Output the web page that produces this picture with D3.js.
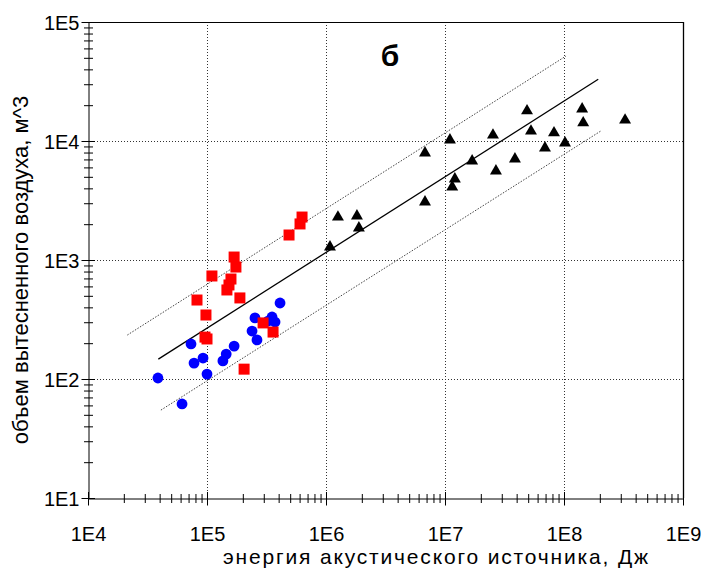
<!DOCTYPE html>
<html><head><meta charset="utf-8">
<script src="https://cdn.jsdelivr.net/npm/d3@7"></script>
<style>body{margin:0;background:#fff}svg{display:block}text{font-family:"Liberation Sans",Arial,sans-serif}</style>
</head><body>
<script>
// ---- data ----
const xTickValues = [1e4, 1e5, 1e6, 1e7, 1e8, 1e9];
const xTickLabels = ["1E4", "1E5", "1E6", "1E7", "1E8", "1E9"];
const yTickValues = [1e1, 1e2, 1e3, 1e4, 1e5];
const yTickLabels = ["1E1", "1E2", "1E3", "1E4", "1E5"];

// red squares
const redX = [6.29e5, 6.05e5, 4.89e5, 1.69e5, 1.75e5, 1.10e5, 1.59e5, 1.53e5, 1.47e5, 8.24e4, 1.89e5, 9.8e4, 2.96e5, 3.59e5, 9.62e4, 1.0e5, 2.05e5];
const redY = [2296, 2009, 1622, 1059, 873, 734, 692, 617, 560, 461, 480, 345, 296, 248, 225, 217, 121];
// blue circles
const blueX = [3.87e4, 6.17e4, 7.34e4, 7.78e4, 9.26e4, 1.0e5, 1.36e5, 1.45e5, 1.69e5, 2.39e5, 2.63e5, 2.53e5, 3.52e5, 3.73e5, 3.26e5, 4.11e5];
const blueY = [102, 61.7, 197, 136, 150, 110, 142, 162, 189, 253, 213, 326, 332, 301, 307, 435];
// black triangles
const blackX = [1.08e6, 1.26e6, 1.82e6, 1.89e6, 6.79e6, 6.79e6, 1.10e7, 1.15e7, 1.21e7, 1.69e7, 2.53e7, 2.68e7, 3.87e7, 4.89e7, 5.28e7, 6.92e7, 8.24e7, 1.02e8, 1.42e8, 1.45e8, 3.26e8];
const blackY = [1286, 2296, 2344, 1858, 7925, 3070, 1.02e4, 4104, 4793, 6792, 1.12e4, 5598, 7063, 1.79e4, 1.21e4, 8733, 1.17e4, 9620, 1.86e4, 1.42e4, 1.50e4];
// regression line and bounds (endpoints)
const fitX = [3.9e4, 1.94e8];
const fitY = [147, 3.3e4];
const upperX = [2.14e4, 1.04e8];
const upperY = [234, 5.18e4];
const lowerX = [4.1e4, 2.03e8];
const lowerY = [54.8, 1.21e4];

const W = 701, H = 569;
const L = 88, R = 683, T = 22, B = 498;
const svg = d3.select("body").append("svg").attr("width", W).attr("height", H);
const x = d3.scaleLog().domain([1e4, 1e9]).range([L, R]);
const y = d3.scaleLog().domain([1e1, 1e5]).range([B, T]);

// minor ticks
const xMinor = [], yMinor = [];
for (let e = 4; e < 9; e++) for (let k = 2; k <= 9; k++) xMinor.push(k * Math.pow(10, e));
for (let e = 1; e < 5; e++) for (let k = 2; k <= 9; k++) yMinor.push(k * Math.pow(10, e));

// grid
const grid = svg.append("g").attr("stroke", "#333").attr("stroke-width", 1).attr("stroke-dasharray", "1,2");
grid.selectAll(".gx").data(xTickValues.slice(1, -1)).join("line")
  .attr("x1", d => Math.round(x(d)) + 0.5).attr("x2", d => Math.round(x(d)) + 0.5).attr("y1", T).attr("y2", B);
grid.selectAll(".gy").data(yTickValues.slice(1, -1)).join("line")
  .attr("y1", d => Math.round(y(d)) + 0.5).attr("y2", d => Math.round(y(d)) + 0.5).attr("x1", L).attr("x2", R);

// frame top/right
svg.append("line").attr("x1", L).attr("x2", R + 0.5).attr("y1", T + 0.5).attr("y2", T + 0.5).attr("stroke", "#000");
svg.append("line").attr("x1", R + 0.5).attr("x2", R + 0.5).attr("y1", T).attr("y2", B).attr("stroke", "#000").attr("stroke-width", 1.3);

// lines
const ln = (xs, ys) => xs.map((v, i) => [x(v), y(ys[i])]);
const lineGen = d3.line();
svg.append("path").attr("d", lineGen(ln(upperX, upperY))).attr("fill", "none").attr("stroke", "#444").attr("stroke-width", 1).attr("stroke-dasharray", "1.5,1.5");
svg.append("path").attr("d", lineGen(ln(lowerX, lowerY))).attr("fill", "none").attr("stroke", "#444").attr("stroke-width", 1).attr("stroke-dasharray", "1.5,1.5");
svg.append("path").attr("d", lineGen(ln(fitX, fitY))).attr("fill", "none").attr("stroke", "#000").attr("stroke-width", 1.3);

// markers
svg.append("g").selectAll("circle").data(blueX.map((v, i) => [v, blueY[i]])).join("circle")
  .attr("cx", d => x(d[0])).attr("cy", d => y(d[1])).attr("r", 5.4).attr("fill", "#0000ff");
const sq = 11;
svg.append("g").selectAll("rect").data(redX.map((v, i) => [v, redY[i]])).join("rect")
  .attr("x", d => x(d[0]) - sq / 2).attr("y", d => y(d[1]) - sq / 2).attr("width", sq).attr("height", sq).attr("fill", "#ff0000");
const tri = d3.symbol().type(d3.symbolTriangle).size(62);
svg.append("g").selectAll("path").data(blackX.map((v, i) => [v, blackY[i]])).join("path")
  .attr("d", tri).attr("transform", d => `translate(${x(d[0])},${y(d[1])})`).attr("fill", "#000");

// axes
const xAxis = svg.append("g").attr("transform", `translate(0,${B + 0.5})`)
  .call(d3.axisBottom(x).tickValues(xTickValues).tickFormat((d, i) => xTickLabels[i]).tickSize(0).tickPadding(0));
xAxis.select(".domain").attr("stroke", "#000");
xAxis.selectAll(".tick line").attr("y1", -6.5).attr("y2", 7).attr("stroke", "#000");
xAxis.selectAll(".tick text").attr("y", 28).attr("dy", "0.71em").attr("font-size", 20).attr("fill", "#000").style("font-family", "'Liberation Sans', Arial, sans-serif");
const xm = svg.append("g").attr("transform", `translate(0,${B + 0.5})`)
  .call(d3.axisBottom(x).tickValues(xMinor).tickFormat("").tickSize(0));
xm.select(".domain").remove();
xm.selectAll(".tick line").attr("y1", -4.5).attr("y2", 4.5).attr("stroke", "#000");

const yAxis = svg.append("g").attr("transform", `translate(${L + 0.5},0)`)
  .call(d3.axisLeft(y).tickValues(yTickValues).tickFormat((d, i) => yTickLabels[i]).tickSize(0).tickPadding(0));
yAxis.select(".domain").attr("stroke", "#000");
yAxis.selectAll(".tick line").attr("x1", -7).attr("x2", 6.5).attr("stroke", "#000");
yAxis.selectAll(".tick text").attr("x", -9).attr("dy", "0.36em").attr("font-size", 20).attr("fill", "#000").style("font-family", "'Liberation Sans', Arial, sans-serif");
const ym = svg.append("g").attr("transform", `translate(${L + 0.5},0)`)
  .call(d3.axisLeft(y).tickValues(yMinor).tickFormat("").tickSize(0));
ym.select(".domain").remove();
ym.selectAll(".tick line").attr("x1", -4.5).attr("x2", 4.5).attr("stroke", "#000");

// titles
svg.append("text").attr("x", 223).attr("y", 564).attr("text-anchor", "start").attr("font-size", 21)
  .attr("textLength", 425).attr("lengthAdjust", "spacing")
  .text("энергия акустического источника, Дж");
svg.append("text").attr("transform", "translate(28,270) rotate(-90)").attr("text-anchor", "middle").attr("font-size", 22)
  .text("объем вытесненного воздуха, м^3");
svg.append("text").attr("x", 390).attr("y", 66).attr("text-anchor", "middle").attr("font-size", 30).attr("font-weight", "bold")
  .text("б");
</script>
</body></html>
